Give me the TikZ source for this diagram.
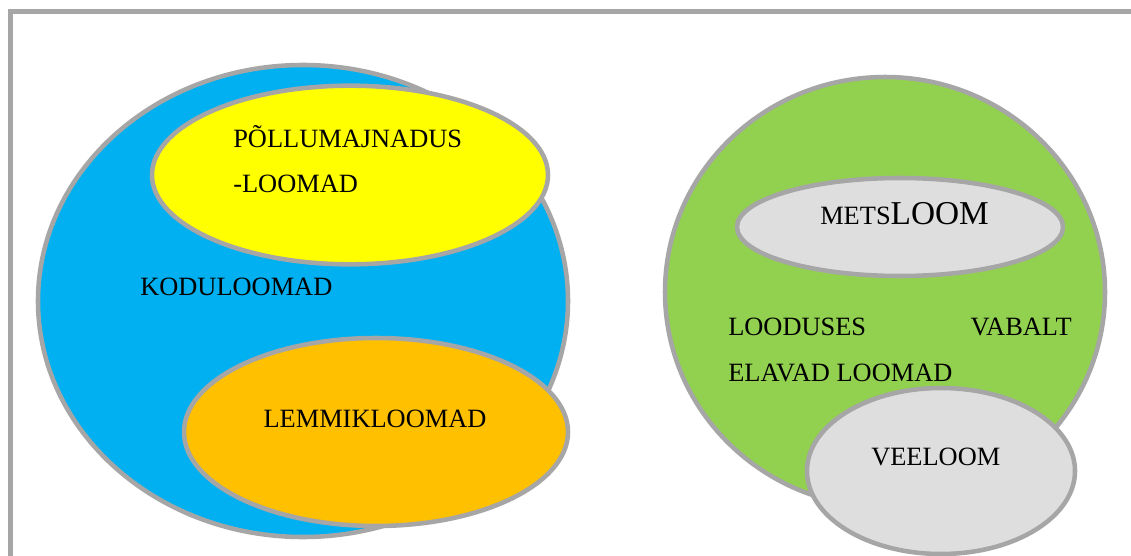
\documentclass[tikz,border=0pt]{standalone}
\usepackage{fontspec}
\setmainfont{Liberation Serif}
\usetikzlibrary{shapes.geometric}
\definecolor{blueC}{HTML}{00B0F0}
\definecolor{yellowC}{HTML}{FFFF00}
\definecolor{orangeC}{HTML}{FFC000}
\definecolor{greenC}{HTML}{92D050}
\definecolor{greyC}{HTML}{DEDEDE}
\definecolor{lineC}{HTML}{A6A6A6}
\begin{document}
\begin{tikzpicture}[x=0.75pt,y=-0.75pt,
  ell/.style={ellipse, draw=lineC, line width=3.4pt, inner sep=0pt},
  lbl/.style={inner sep=0pt, font=\fontsize{19.8}{24}\selectfont}]
\useasboundingbox (0,0) rectangle (1131,556);
\fill[white] (0,0) rectangle (1131,556);
% frame
\coordinate (f1) at (10.5,570);
\coordinate (f2) at (10.5,11.5);
\coordinate (f3) at (1145,11.5);
\draw[lineC, line width=3.4pt] (f1) -- (f2) -- (f3);
% left group
\node[ell, fill=blueC, minimum width=397.5pt, minimum height=354pt] (kodu) at (303,301) {};
\node[ell, fill=yellowC, minimum width=297pt, minimum height=134pt] (pollu) at (350,175) {};
\node[ell, fill=orangeC, minimum width=288pt, minimum height=141pt] (lemmik) at (376,432) {};
\node[lbl, anchor=base west] (t1) at (233,148) {PÕLLUMAJNADUS};
\node[lbl, anchor=base west] (t2) at (233,193) {-LOOMAD};
\node[lbl, anchor=base west] (t3) at (140,295) {KODULOOMAD};
\node[lbl, anchor=base] (t4) at (375,427) {LEMMIKLOOMAD};
% right group
\node[ell, fill=greenC, minimum width=330pt, minimum height=322.5pt] (vaba) at (885,292) {};
\node[ell, fill=greyC, minimum width=244.5pt, minimum height=73.5pt] (mets) at (900,227) {};
\node[ell, fill=greyC, minimum width=201pt, minimum height=124.5pt] (vee) at (941,471) {};
\node[lbl, anchor=base west] (t5) at (820,224) {METS{\fontsize{25}{30}\selectfont LOOM}};
\node[lbl, anchor=base west] (t6) at (728,335) {LOODUSES};
\node[lbl, anchor=base east] (t7) at (1072,335) {VABALT};
\node[lbl, anchor=base west] (t8) at (728,381) {ELAVAD LOOMAD};
\node[lbl, anchor=base west] (t9) at (871,465) {VEELOOM};
\end{tikzpicture}
\end{document}
